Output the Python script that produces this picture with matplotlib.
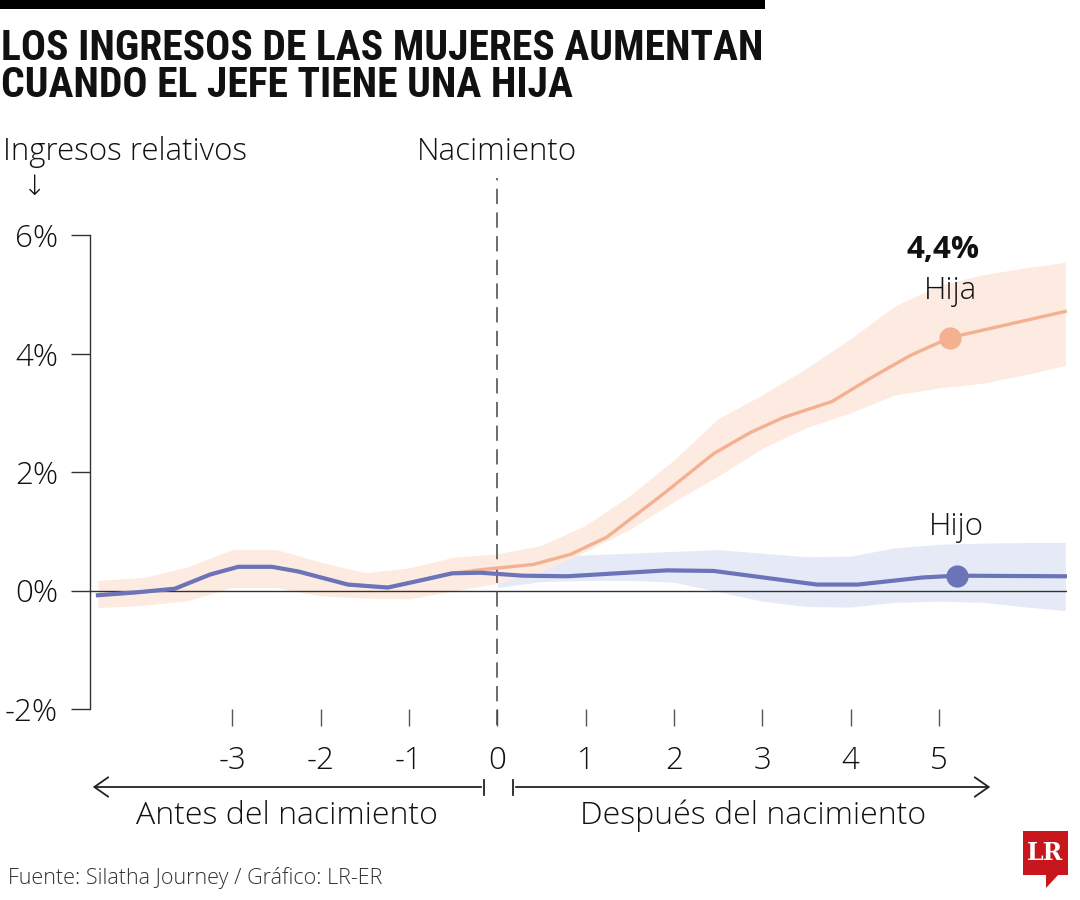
import numpy as np
import matplotlib
matplotlib.use('Agg')
import matplotlib.pyplot as plt
from matplotlib import font_manager
from matplotlib.patches import Rectangle, Polygon, FancyArrowPatch
from matplotlib.lines import Line2D

# datos: años respecto al nacimiento y % de ingresos relativos
hijo_x = [-4.52, -4.07, -3.65, -3.25, -2.93, -2.55, -2.25, -1.69, -1.24, -0.87, -0.51,
          -0.19, 0.29, 0.79, 1.92, 2.45, 3.62, 4.08, 4.82, 5.20, 6.43]
hijo_y = [-0.08, -0.03, 0.03, 0.27, 0.40, 0.40, 0.32, 0.10, 0.05, 0.17, 0.29,
          0.30, 0.25, 0.24, 0.34, 0.33, 0.10, 0.10, 0.22, 0.25, 0.24]

hija_x = [-4.52, -4.07, -3.65, -3.25, -2.93, -2.55, -2.25, -1.69, -1.24, -0.87, -0.51,
          -0.19, 0.41, 0.83, 1.24, 1.88, 2.45, 2.87, 3.24, 3.79, 4.22, 4.68, 5.13, 6.43]
hija_y = [-0.08, -0.03, 0.03, 0.27, 0.40, 0.40, 0.32, 0.10, 0.05, 0.17, 0.29,
          0.35, 0.44, 0.61, 0.90, 1.63, 2.31, 2.67, 2.92, 3.19, 3.58, 3.97, 4.27, 4.71]

banda_x = [-4.52, -4.0, -3.5, -3.0, -2.5, -2.0, -1.5, -1.0, -0.5, 0.0, 0.5, 1.0, 1.5,
           2.0, 2.5, 3.0, 3.5, 4.0, 4.5, 5.0, 5.5, 6.0, 6.43]
hija_alto = [0.17, 0.22, 0.40, 0.69, 0.69, 0.48, 0.30, 0.38, 0.56, 0.62, 0.76, 1.10, 1.60,
             2.20, 2.90, 3.30, 3.75, 4.25, 4.80, 5.15, 5.33, 5.45, 5.54]
hija_bajo = [-0.29, -0.25, -0.17, 0.05, 0.05, -0.09, -0.13, -0.14, -0.01, 0.12, 0.32, 0.66, 1.03,
             1.50, 1.93, 2.40, 2.75, 3.00, 3.30, 3.42, 3.50, 3.65, 3.80]

hijo_banda_x = [0.0, 0.5, 1.0, 1.5, 2.0, 2.5, 3.0, 3.5, 4.0, 4.5, 5.0, 5.5, 6.0, 6.43]
hijo_alto = [0.50, 0.57, 0.60, 0.63, 0.66, 0.69, 0.63, 0.57, 0.58, 0.72, 0.78, 0.80, 0.81, 0.81]
hijo_bajo = [0.05, 0.15, 0.17, 0.17, 0.14, -0.02, -0.18, -0.27, -0.28, -0.20, -0.18, -0.20, -0.28, -0.34]

punto_hija = 5.13
punto_hijo = 5.20
dato_hija = '4,4%'

anios = [-3, -2, -1, 0, 1, 2, 3, 4, 5]
etiquetas_x = ['-3', '-2', '-1', '0', '1', '2', '3', '4', '5']
ticks_y = [-2, 0, 2, 4, 6]
etiquetas_y = ['-2%', '0%', '2%', '4%', '6%']

AZUL = '#6c74b9'
NARANJA = '#f3b192'
BANDA_NARANJA = '#fdeae0'
BANDA_AZUL = '#e6eaf6'
GRIS = '#333333'
TXT = 22.5

nombres = {f.name for f in font_manager.fontManager.ttflist}
fuente = ['Open Sans', 'DejaVu Sans'] if 'Open Sans' in nombres else ['DejaVu Sans']
fuente_titulo = next((n for n in ['Liberation Sans Narrow', 'Roboto Condensed', 'Open Sans Condensed']
                      if n in nombres), 'DejaVu Sans')
plt.rcParams['font.family'] = fuente
plt.rcParams['font.weight'] = 'light'

W, H = 1080, 900
fig = plt.figure(figsize=(W / 100, H / 100), dpi=100)
fx = lambda x: x / W
fy = lambda y: 1 - y / H

ax = fig.add_axes([fx(90), fy(709), 977 / W, 474 / H])
ax.set_xlim(-4.61, 6.45)
ax.set_ylim(-2, 6)

ax.fill_between(hijo_banda_x, hijo_bajo, hijo_alto, color=BANDA_AZUL, lw=0, zorder=1)
ax.fill_between(banda_x, hija_bajo, hija_alto, color=BANDA_NARANJA, lw=0, zorder=2)
ax.axhline(0, color=GRIS, lw=1, zorder=3)
ax.axvline(0, ymin=-0.034, ymax=1.12, color='#444444', lw=1.1, ls=(0, (10, 5.5)),
           clip_on=False, zorder=3)
ax.plot(hija_x, hija_y, color=NARANJA, lw=2.4, solid_joinstyle='round', zorder=4)
ax.plot(hijo_x, hijo_y, color=AZUL, lw=3.0, solid_joinstyle='round', zorder=5)

yh = np.interp(punto_hija, hija_x, hija_y)
yo = np.interp(punto_hijo, hijo_x, hijo_y)
ax.plot([punto_hija], [yh], 'o', color=NARANJA, ms=16, mew=0, zorder=6)
ax.plot([punto_hijo], [yo], 'o', color=AZUL, ms=16, mew=0, zorder=6)

ax.annotate('Hija', (punto_hija, yh), xytext=(0, 28), textcoords='offset points',
            ha='center', va='baseline', fontsize=TXT, color='#111111')
ax.annotate(dato_hija, (punto_hija, yh), xytext=(-5, 57), textcoords='offset points',
            ha='center', va='baseline', fontsize=TXT, fontweight='bold', color='#111111')
ax.annotate('Hijo', (punto_hijo, yo), xytext=(0, 29), textcoords='offset points',
            ha='center', va='baseline', fontsize=TXT, color='#111111')

for lado in ['top', 'right', 'bottom']:
    ax.spines[lado].set_visible(False)
ax.spines['left'].set_color(GRIS)
ax.spines['left'].set_linewidth(1)
ax.set_yticks(ticks_y, etiquetas_y)
ax.set_xticks(anios, etiquetas_x)
ax.tick_params(axis='y', length=14, width=1, color=GRIS, pad=9, labelsize=TXT, labelcolor='#111111')
ax.tick_params(axis='x', length=12, width=1, color='#555555', pad=14, labelsize=TXT, labelcolor='#111111')
ax.set_facecolor('none')

# barra negra superior y titulo (un solo texto de dos lineas)
fig.patches.append(Rectangle((0, fy(9)), fx(765), 9 / H, transform=fig.transFigure,
                             color='black', lw=0))
fig.text(fx(1), fy(97), 'LOS INGRESOS DE LAS MUJERES AUMENTAN\nCUANDO EL JEFE TIENE UNA HIJA',
         fontsize=30, fontweight='bold', family=fuente_titulo, fontstretch='condensed',
         va='baseline', linespacing=0.89, color='#111111')

fig.text(fx(3), fy(152), 'Ingresos relativos', fontsize=TXT, va='center', color='#111111')
fig.text(fx(35), fy(187), '↓', fontsize=20, va='center', ha='center', color='#111111',
         family=['DejaVu Sans'])
fig.text(fx(497), fy(152), 'Nacimiento', fontsize=TXT, va='center', ha='center', color='#111111')

# flechas de antes / despues
for x0, x1 in [(484, 90), (513, 993)]:
    fig.patches.append(FancyArrowPatch((fx(x0), fy(787)), (fx(x1), fy(787)),
                                       transform=fig.transFigure, mutation_scale=10,
                                       arrowstyle='->,head_length=1.0,head_width=0.7',
                                       lw=1.3, color='#222222'))
    fig.lines.append(Line2D([fx(x0), fx(x0)], [fy(780), fy(795)], transform=fig.transFigure,
                            lw=1.3, color='#222222'))
fig.text(fx(287), fy(816), 'Antes del nacimiento', fontsize=23, ha='center', va='center',
         color='#111111')
fig.text(fx(753), fy(816), 'Después del nacimiento', fontsize=23, ha='center', va='center',
         color='#111111')

fig.text(fx(8), fy(878), 'Fuente: Silatha Journey / Gráfico: LR-ER', fontsize=15.5,
         va='center', color='#333333')

# logo LR
fig.patches.append(Rectangle((fx(1023), fy(875)), 45 / W, 44 / H, transform=fig.transFigure,
                             color='#c8161d', lw=0))
fig.patches.append(Polygon([(fx(1046), fy(874)), (fx(1059), fy(874)), (fx(1046), fy(888))],
                           closed=True, transform=fig.transFigure, color='#c8161d', lw=0))
fig.text(fx(1045.5), fy(853), 'LR', fontsize=17, fontweight='bold', family='DejaVu Serif',
         ha='center', va='center', color='white')

fig.savefig('out.png', dpi=100, facecolor='white')
